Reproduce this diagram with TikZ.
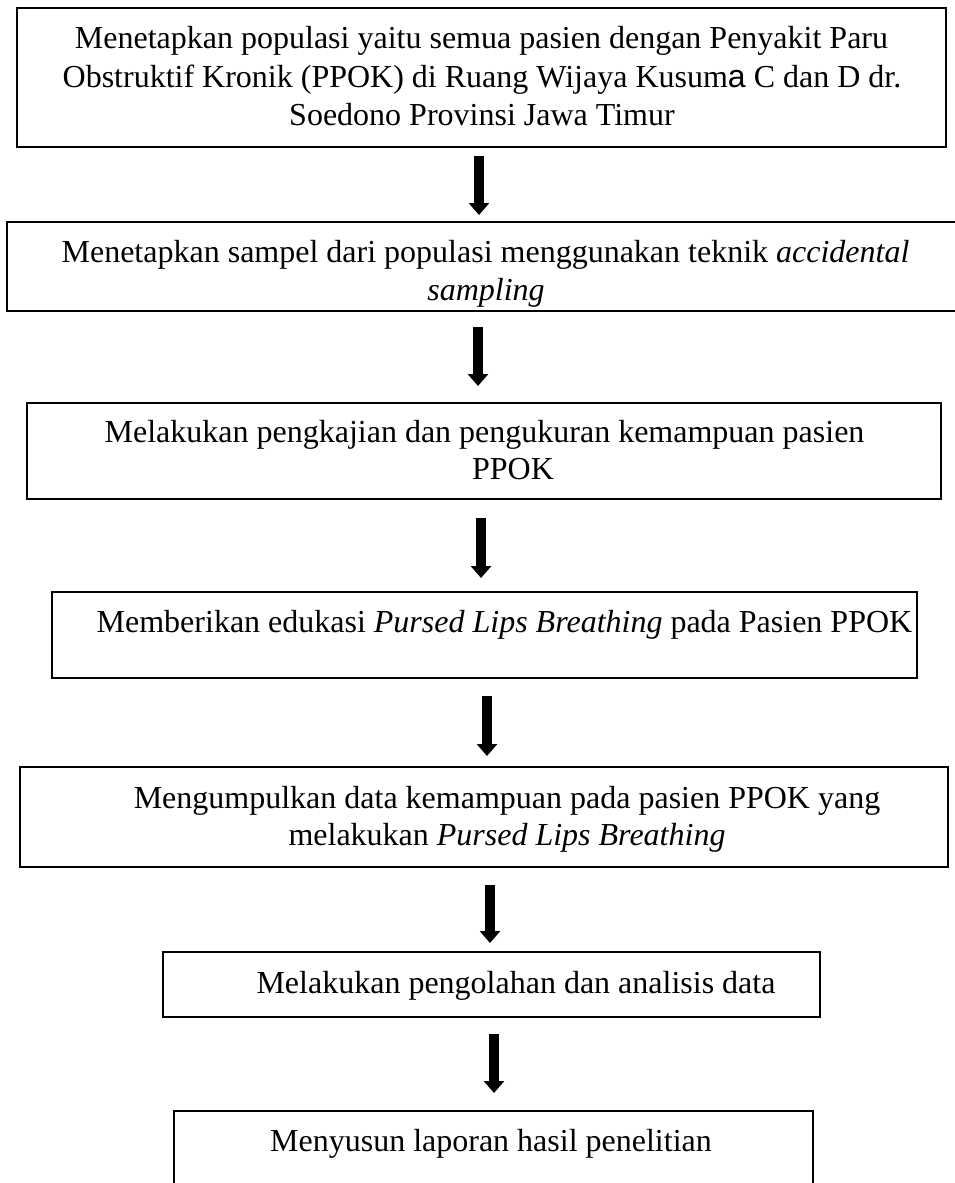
\documentclass[tikz,border=0pt]{standalone}
\usepackage{fontspec}
\setmainfont{Liberation Serif}
\newfontfamily\sansf{Liberation Sans}
\usetikzlibrary{arrows.meta}
\begin{document}
\begin{tikzpicture}[x=1pt,y=-1pt,
 box/.style={draw=black, line width=2pt, rectangle, inner sep=0pt},
 txt/.style={anchor=base, inner sep=0pt, font=\fontsize{32}{38.5}\selectfont},
 flow/.style={line width=10pt, -{Triangle[width=20pt,length=12pt]}}]
\useasboundingbox (0,0) rectangle (955,1183);
% boxes
\node[box, minimum width=929pt, minimum height=139pt] (b1) at (481.5,77.5) {};
\node[box, minimum width=955pt, minimum height=89pt] (b2) at (484.5,266.5) {};
\node[box, minimum width=914pt, minimum height=96pt] (b3) at (484,451) {};
\node[box, minimum width=865pt, minimum height=86pt] (b4) at (484.5,635) {};
\node[box, minimum width=928.5pt, minimum height=100pt] (b5) at (483.75,817) {};
\node[box, minimum width=657pt, minimum height=65pt] (b6) at (491.5,984.5) {};
\node[box, minimum width=639pt, minimum height=89pt] (b7) at (493.5,1155.5) {};
% texts
\node[txt] (t1a) at (481.5,48) {Menetapkan populasi yaitu semua pasien dengan Penyakit Paru};
\node[txt] (t1b) at (482,87) {Obstruktif Kronik (PPOK) di Ruang Wijaya Kusum{\sansf a} C dan D dr.};
\node[txt] (t1c) at (482,125) {Soedono Provinsi Jawa Timur};
\node[txt] (t2a) at (485.5,262) {Menetapkan sampel dari populasi menggunakan teknik \textit{accidental}};
\node[txt] (t2b) at (486,300) {\textit{sampling}};
\node[txt] (t3a) at (484.5,442) {Melakukan pengkajian dan pengukuran kemampuan pasien};
\node[txt] (t3b) at (513,479) {PPOK};
\node[txt] (t4) at (504.5,632) {Memberikan edukasi \textit{Pursed Lips Breathing} pada Pasien PPOK};
\node[txt] (t5a) at (507,808) {Mengumpulkan data kemampuan pada pasien PPOK yang};
\node[txt] (t5b) at (507,845) {melakukan \textit{Pursed Lips Breathing}};
\node[txt] (t6) at (516,993) {Melakukan pengolahan dan analisis data};
\node[txt] (t7) at (491,1151) {Menyusun laporan hasil penelitian};
% arrows
\coordinate (a1s) at (479,156); \coordinate (a1e) at (479,215);
\coordinate (a2s) at (478,327); \coordinate (a2e) at (478,386);
\coordinate (a3s) at (481,518); \coordinate (a3e) at (481,578);
\coordinate (a4s) at (487,696); \coordinate (a4e) at (487,756);
\coordinate (a5s) at (490,885); \coordinate (a5e) at (490,943);
\coordinate (a6s) at (494,1034); \coordinate (a6e) at (494,1093);
\draw[flow] (a1s) -- (a1e);
\draw[flow] (a2s) -- (a2e);
\draw[flow] (a3s) -- (a3e);
\draw[flow] (a4s) -- (a4e);
\draw[flow] (a5s) -- (a5e);
\draw[flow] (a6s) -- (a6e);
\end{tikzpicture}
\end{document}
